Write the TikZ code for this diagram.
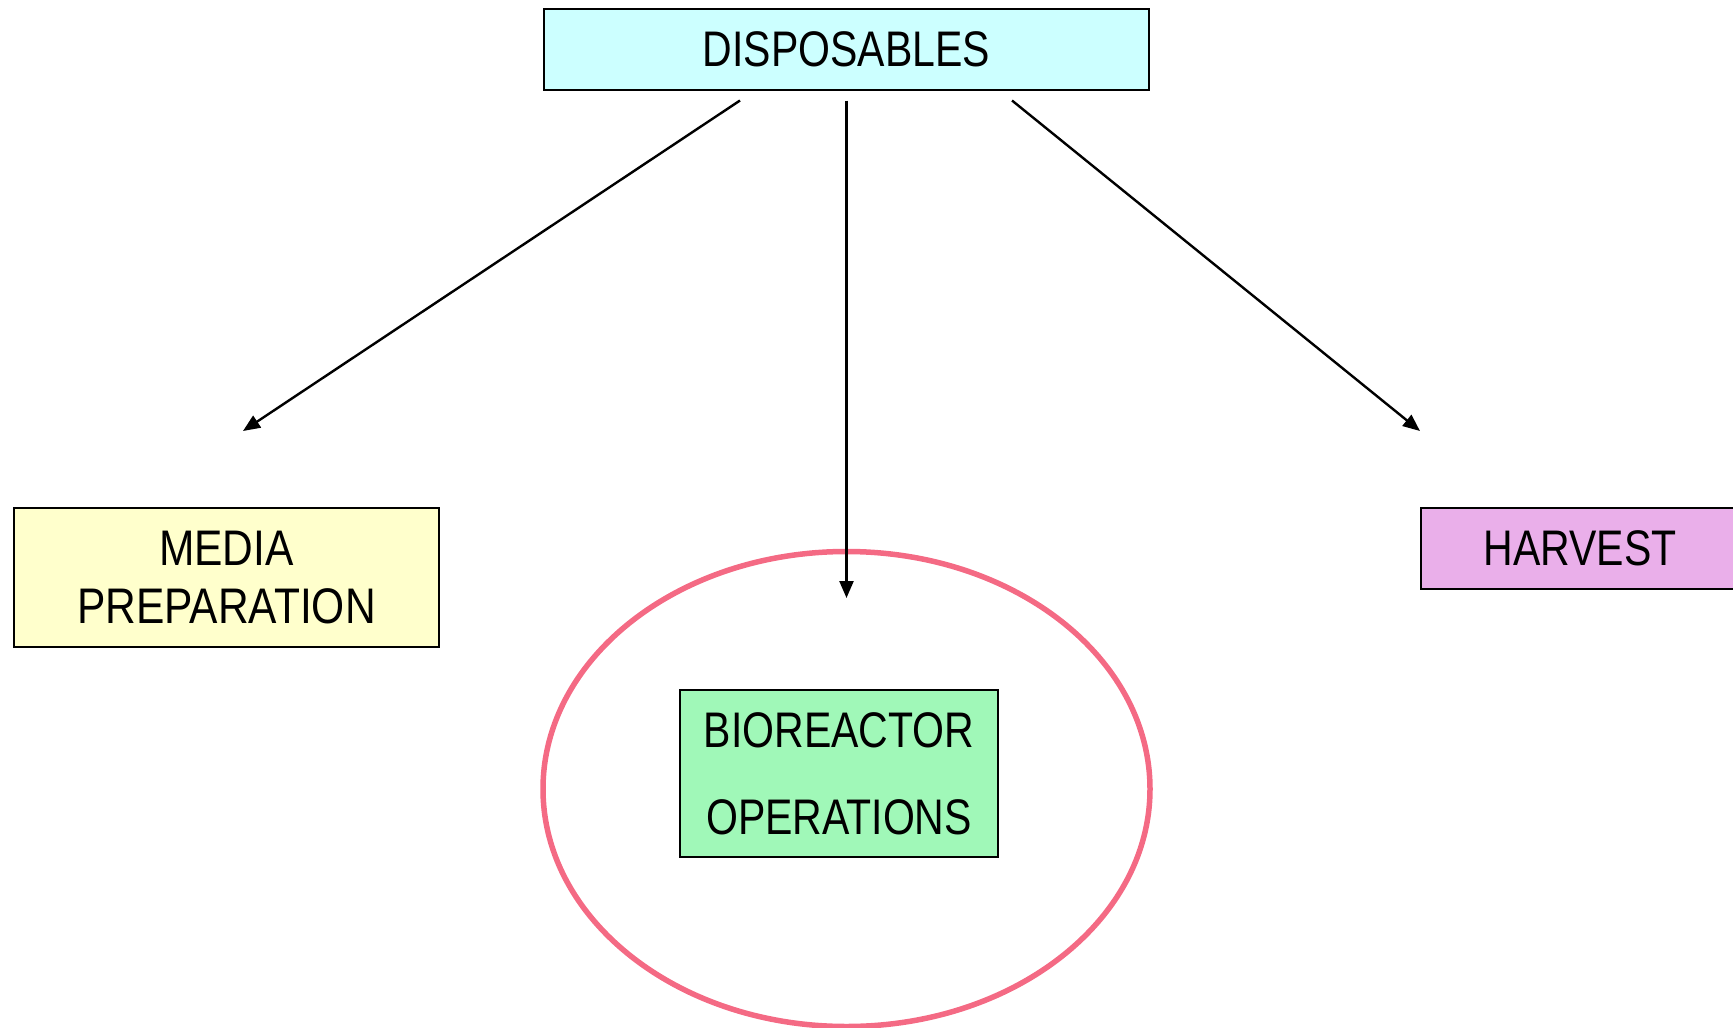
\documentclass[tikz,border=0pt]{standalone}
\usepackage{fontspec}
\setmainfont{Liberation Sans}[FakeStretch=0.82]
\newfontfamily\widerface{Liberation Sans}[FakeStretch=0.85]
\usetikzlibrary{arrows.meta,shapes.geometric}

\definecolor{dispfill}{HTML}{CCFFFF}
\definecolor{mediafill}{HTML}{FFFFCC}
\definecolor{harvfill}{HTML}{EAAFEA}
\definecolor{biofill}{HTML}{A0F8B8}
\definecolor{ringcol}{HTML}{F46A84}

\tikzset{
  stagebox/.style={draw=black, line width=2.6pt, inner sep=0pt, align=center,
    font=\fontsize{50}{58.6}\selectfont},
  ring/.style={draw=ringcol, line width=5.5pt, ellipse, inner sep=0pt},
  feed/.style={draw=black, line width=2.4pt, -{Triangle[length=17pt,width=14pt]}}
}

\begin{document}
\begin{tikzpicture}[x=1pt,y=-1pt]
  \useasboundingbox (0,0) rectangle (1733,1028);

  % reactor vessel outline
  \node[ring, minimum width=607, minimum height=475] (vessel) at (846.5,789) {};

  % process stages
  \node[stagebox, fill=dispfill, minimum width=605, minimum height=81] (disp) at (846.5,49.5) {DISPOSABLES};
  \node[stagebox, fill=mediafill, minimum width=425, minimum height=139,
        font=\widerface\fontsize{50}{58.6}\selectfont] (media) at (226.5,577.5) {MEDIA\\PREPARATION};
  \node[stagebox, fill=harvfill, minimum width=318, minimum height=81] (harvest) at (1580,548.5) {HARVEST};
  \node[stagebox, fill=biofill, minimum width=318, minimum height=167,
        font=\fontsize{50}{87}\selectfont] (bio) at (839,773.5) {BIOREACTOR\\OPERATIONS};

  % arrow ends
  \coordinate (fromL) at (740,100.5);
  \coordinate (fromM) at (846.5,100.5);
  \coordinate (fromR) at (1012,100.5);
  \coordinate (toL) at (243,431);
  \coordinate (toM) at (846.5,598);
  \coordinate (toR) at (1420,431);

  \draw[feed] (fromL) -- (toL);
  \draw[feed] (fromM) -- (toM);
  \draw[feed] (fromR) -- (toR);
\end{tikzpicture}
\end{document}
